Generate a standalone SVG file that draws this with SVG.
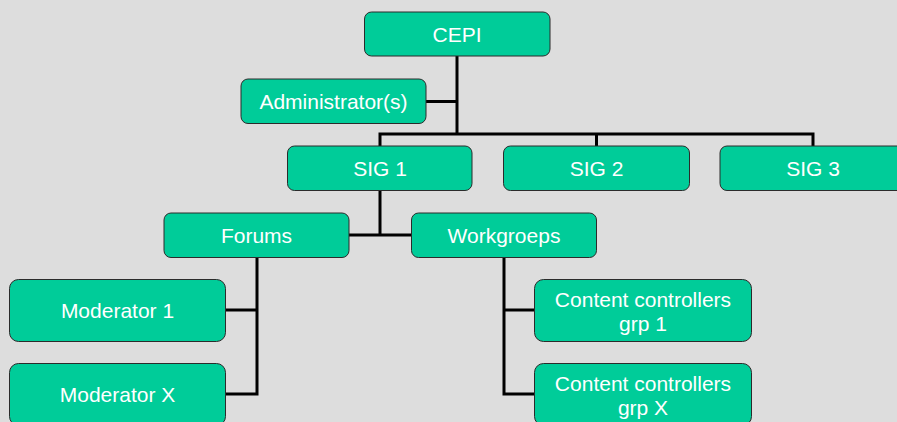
<svg xmlns="http://www.w3.org/2000/svg" width="897" height="422" viewBox="0 0 897 422">
  <style>
    .box { fill: #00CC99; stroke: #2b2b2b; stroke-width: 1; }
    .lbl { font-family: "Liberation Sans", Arial, sans-serif; font-size: 21px; fill: #ffffff; text-anchor: middle; }
    .wire { fill: none; stroke: #000000; stroke-width: 3; stroke-linecap: butt; stroke-linejoin: miter; }
  </style>
  <rect x="0" y="0" width="897" height="422" fill="#DDDDDD"/>

  <!-- org-chart connectors -->
  <g id="connectors">
    <path class="wire" d="M457,56 V134"/>
    <path class="wire" d="M426,101.5 H457"/>
    <path class="wire" d="M380,146 V134 H813 V146"/>
    <path class="wire" d="M596.5,134 V146"/>
    <path class="wire" d="M380,190 V235"/>
    <path class="wire" d="M349,235 H412"/>
    <path class="wire" d="M257,257 V394 H225"/>
    <path class="wire" d="M257,310 H225"/>
    <path class="wire" d="M504,257 V394 H534"/>
    <path class="wire" d="M504,310 H534"/>
  </g>

  <g id="cepi">
    <rect class="box" x="364.5" y="12" width="185.5" height="44" rx="7"/>
    <text class="lbl" x="457" y="41.5">CEPI</text>
  </g>
  <g id="administrators">
    <rect class="box" x="241" y="79" width="185" height="44.5" rx="7"/>
    <text class="lbl" x="333.5" y="108.5">Administrator(s)</text>
  </g>
  <g id="sig1">
    <rect class="box" x="287.5" y="146" width="184.5" height="44.5" rx="7"/>
    <text class="lbl" x="380" y="175.5">SIG 1</text>
  </g>
  <g id="sig2">
    <rect class="box" x="503.5" y="146" width="186" height="44.5" rx="7"/>
    <text class="lbl" x="596.5" y="175.5">SIG 2</text>
  </g>
  <g id="sig3">
    <rect class="box" x="720" y="146" width="186" height="44.5" rx="7"/>
    <text class="lbl" x="813" y="175.5">SIG 3</text>
  </g>
  <g id="forums">
    <rect class="box" x="164" y="213" width="185" height="44.5" rx="7"/>
    <text class="lbl" x="256.5" y="242.5">Forums</text>
  </g>
  <g id="workgroeps">
    <rect class="box" x="411.5" y="213" width="185" height="44.5" rx="7"/>
    <text class="lbl" x="504" y="242.5">Workgroeps</text>
  </g>
  <g id="moderator1">
    <rect class="box" x="9.5" y="279.5" width="216" height="62" rx="9"/>
    <text class="lbl" x="117.5" y="317.5">Moderator 1</text>
  </g>
  <g id="moderatorX">
    <rect class="box" x="9.5" y="363.5" width="216" height="62" rx="9"/>
    <text class="lbl" x="117.5" y="401.5">Moderator X</text>
  </g>
  <g id="cc-grp1">
    <rect class="box" x="534.5" y="279.5" width="217" height="62" rx="9"/>
    <text class="lbl" x="643" y="306.5">Content controllers</text>
    <text class="lbl" x="643" y="330.5">grp 1</text>
  </g>
  <g id="cc-grpX">
    <rect class="box" x="534.5" y="363.5" width="217" height="62" rx="9"/>
    <text class="lbl" x="643" y="390.5">Content controllers</text>
    <text class="lbl" x="643" y="414.5">grp X</text>
  </g>
</svg>
